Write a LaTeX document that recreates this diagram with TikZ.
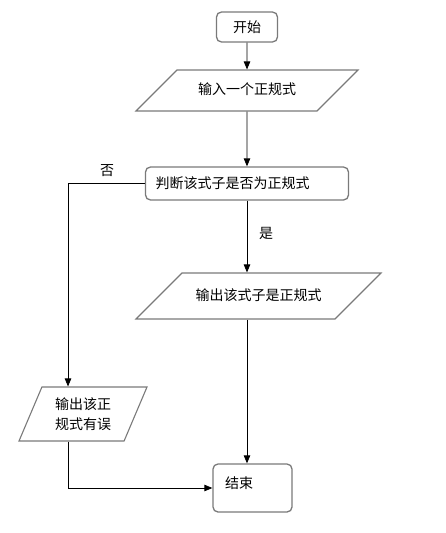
\documentclass[tikz,border=0pt]{standalone}
\usepackage{fontspec}
\setmainfont{Noto Sans CJK SC}
\usepackage{xcolor}
\usetikzlibrary{arrows.meta,calc,positioning,shapes.geometric}
\definecolor{BoxGray}{HTML}{7A7A7A}

\begin{document}
\begin{tikzpicture}[>={Triangle[length=8pt,width=6.5pt]}, x=1pt, y=-1pt, font=\fontsize{14}{20}\selectfont,
    roundbox/.style={draw=BoxGray, line width=1.3pt, rounded corners=5pt, inner sep=0pt},
    iobox/.style={draw=BoxGray, line width=1.1pt, trapezium, trapezium left angle=45,
        trapezium right angle=135, trapezium stretches body, inner xsep=0pt,
        text height=11pt, text depth=3pt},
    flow/.style={->, line width=0.8pt}]
    \useasboundingbox (0,0) rectangle (446,533);

    % Start
    \node[roundbox, minimum width=61pt, minimum height=30pt] (start) at (247,27) {开始};

    % Input
    \node[iobox, minimum width=222pt, inner ysep=13.5pt] (input) at (247,90.5) {输入一个正规式};

    % Decision
    \node[roundbox, minimum width=203pt, minimum height=33pt, text width=183pt, align=left] (judge) at (247,183.5) {判断该式子是否为正规式};

    % Output (yes)
    \node[iobox, minimum width=245pt, inner ysep=16pt] (ok) at (258.5,296) {输出该式子是正规式};

    % Output (no)
    \node[iobox, trapezium left angle=67, trapezium right angle=113, minimum width=128pt,
        text height={}, text depth={}, inner ysep=10.5pt, align=left] (err) at (83,414) {输出该正\\规式有误};

    % End
    \node[roundbox, minimum width=79pt, minimum height=48pt] (end) at (252.5,488) {};
    \node[anchor=west, inner sep=0pt] (endtext) at (225,483) {结束};

    % Branch labels
    \node (no) at (107,171) {否};
    \node (yes) at (266,233) {是};

    % Connectors
    \draw[flow] (start) -- (input);
    \draw[flow] (input) -- (judge);
    \draw[flow] (judge.west) -| ([xshift=-15pt]err.north);
    \draw[flow] (judge.south) -- (ok.north -| judge.south);
    \draw[flow] (ok.south -| judge.south) -- (end.north -| judge.south);
    \draw[flow] ([xshift=-15pt]err.south) |- (end.west);

\end{tikzpicture}
\end{document}
